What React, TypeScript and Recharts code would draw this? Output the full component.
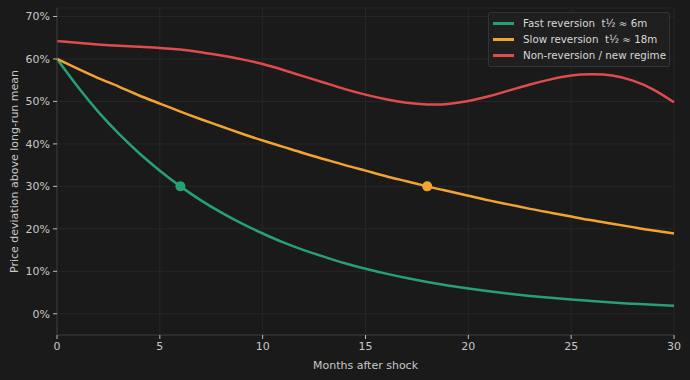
import React from "react";
import {
  ComposedChart,
  Line,
  XAxis,
  YAxis,
  CartesianGrid,
  ReferenceDot,
} from "recharts";

const months = [0, 1, 2, 3, 4, 5, 6, 7, 8, 9, 10, 11, 12, 13, 14, 15, 16, 17, 18, 19, 20, 21, 22, 23, 24, 25, 26, 27, 28, 29, 30];
const fastReversion = [60, 53.5, 47.6, 42.4, 37.8, 33.7, 30, 26.7, 23.8, 21.2, 18.9, 16.8, 15, 13.4, 11.9, 10.6, 9.45, 8.42, 7.5, 6.68, 5.95, 5.3, 4.72, 4.21, 3.75, 3.34, 2.98, 2.65, 2.36, 2.1, 1.88];
const slowReversion = [60, 57.7, 55.5, 53.5, 51.4, 49.5, 47.6, 45.8, 44.1, 42.4, 40.8, 39.3, 37.8, 36.4, 35.0, 33.7, 32.4, 31.2, 30, 28.9, 27.8, 26.7, 25.7, 24.7, 23.8, 22.9, 22.0, 21.2, 20.4, 19.6, 18.9];
const nonReversion = [64.2, 63.8, 63.4, 63.1, 62.9, 62.6, 62.2, 61.6, 60.8, 59.9, 58.8, 57.4, 55.9, 54.4, 52.9, 51.6, 50.5, 49.7, 49.3, 49.4, 50.1, 51.2, 52.6, 54.0, 55.2, 56.1, 56.4, 56.1, 54.9, 52.8, 49.8];

const xTicks = [0, 5, 10, 15, 20, 25, 30];
const yTicks = [0, 10, 20, 30, 40, 50, 60, 70];

const seriesNames = ["Fast reversion  t½ ≈ 6m", "Slow reversion  t½ ≈ 18m", "Non-reversion / new regime"];
const halfLifeFast = { x: 6, y: 30 };
const halfLifeSlow = { x: 18, y: 30 };

const GREEN = "#27a074";
const ORANGE = "#f2a431";
const RED = "#e04b4d";
const COLORS = [GREEN, ORANGE, RED];

const data = months.map((m, i) => ({
  month: m,
  fast: fastReversion[i],
  slow: slowReversion[i],
  nonrev: nonReversion[i],
}));

const FONT = "DejaVu Sans";
const tickStyle = { fill: "#c8c8c8", fontSize: 11, fontFamily: FONT };

const LegendBox = () => (
  <div
    style={{
      position: "absolute",
      left: 488,
      top: 12,
      width: 182,
      boxSizing: "border-box",
      background: "#1f1f1f",
      border: "1px solid #333",
      borderRadius: 2,
      padding: "2px 4px 3px 4px",
      fontFamily: FONT,
      fontSize: 10.3,
      color: "#d8d8d8",
    }}
  >
    {seriesNames.map((n, i) => (
      <div key={n} style={{ display: "flex", alignItems: "center", height: 16 }}>
        <div style={{ width: 21, height: 3, background: COLORS[i], marginRight: 9, flexShrink: 0 }} />
        <span style={{ whiteSpace: "pre" }}>{n}</span>
      </div>
    ))}
  </div>
);

export default function App() {
  return (
    <div style={{ position: "absolute", left: 0, top: 0, width: 690, height: 380, background: "#1a1a1a" }}>
      <ComposedChart
        width={690}
        height={380}
        data={data}
        margin={{ top: 8, right: 16, bottom: 0, left: 0 }}
      >
        <CartesianGrid stroke="#2a2a2a" strokeWidth={0.8} />
        <XAxis
          dataKey="month"
          type="number"
          domain={[0, 30]}
          ticks={xTicks}
          tick={tickStyle}
          tickSize={4}
          tickMargin={3}
          height={45}
          stroke="#3a3a3a"
          tickLine={{ stroke: "#bbb" }}
          label={{ value: "Months after shock", position: "insideBottom", offset: 11, fill: "#c8c8c8", fontSize: 11, fontFamily: FONT }}
        />
        <YAxis
          type="number"
          domain={[-5, 72]}
          ticks={yTicks}
          allowDataOverflow
          tickFormatter={(v: number) => `${v}%`}
          tick={tickStyle}
          tickSize={4}
          tickMargin={3}
          width={57}
          stroke="#3a3a3a"
          tickLine={{ stroke: "#bbb" }}
          label={{ value: "Price deviation above long-run mean", angle: -90, position: "insideLeft", offset: 14, fill: "#c8c8c8", fontSize: 11, fontFamily: FONT, style: { textAnchor: "middle" } }}
        />
        <Line type="natural" dataKey="fast" stroke={GREEN} strokeWidth={2.5} dot={false} isAnimationActive={false} />
        <Line type="natural" dataKey="slow" stroke={ORANGE} strokeWidth={2.5} dot={false} isAnimationActive={false} />
        <Line type="natural" dataKey="nonrev" stroke={RED} strokeWidth={2.5} dot={false} isAnimationActive={false} />
        <ReferenceDot x={halfLifeFast.x} y={halfLifeFast.y} r={5} fill={GREEN} stroke="none" />
        <ReferenceDot x={halfLifeSlow.x} y={halfLifeSlow.y} r={5} fill={ORANGE} stroke="none" />
      </ComposedChart>
      <LegendBox />
    </div>
  );
}
